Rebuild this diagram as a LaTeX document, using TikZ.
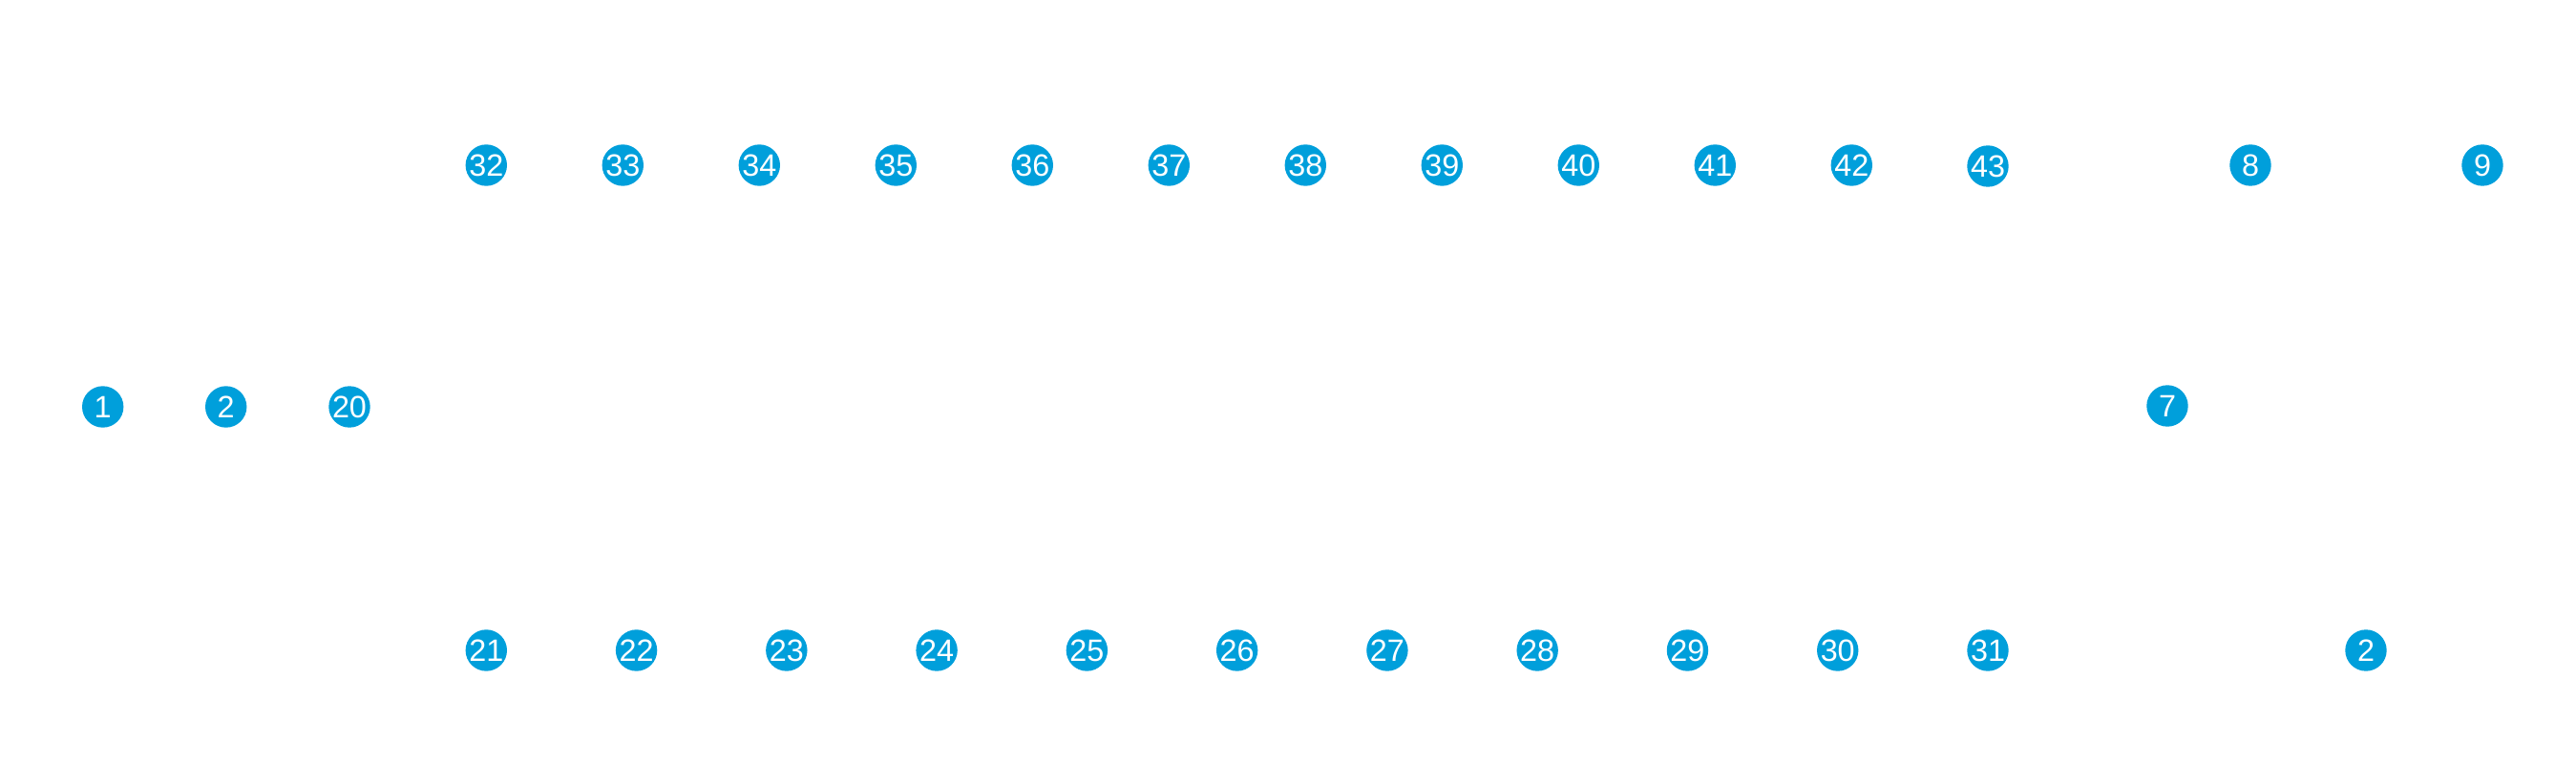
\documentclass[tikz,border=0pt]{standalone}
\usepackage{fontspec}
\setmainfont{Liberation Sans}
\usepackage{xcolor}
\usepackage{tikz}
\usetikzlibrary{positioning}

\definecolor{pinblue}{RGB}{0,159,219}

\begin{document}
\begin{tikzpicture}[
  num/.style={circle, fill=pinblue, text=white, inner sep=0pt,
              minimum size=0.434cm, font=\fontsize{9.2}{10}\selectfont},
]
  \useasboundingbox (0,0) rectangle (26.98,7.99);

  % left column
  \node[num] (n1)  at (1.077,3.73) {1};
  \node[num] (n2)  at (2.367,3.73) {2};
  \node[num] (n20) at (3.66,3.73)  {20};

  % top row
  \foreach \i in {32,...,42}
    \node[num] (n\i) at ({5.093+(\i-32)*1.43},6.26) {\i};
  \node[num] (n43) at (20.82,6.25) {43};
  \node[num] (n8)  at (23.57,6.26) {8};
  \node[num] (n9)  at (26.0,6.26)  {9};

  % right side
  \node[num] (n7)  at (22.70,3.74) {7};

  % bottom row
  \foreach \i in {21,...,31}
    \node[num] (n\i) at ({5.093+(\i-21)*1.5727},1.18) {\i};
  \node[num] (n2b) at (24.78,1.18) {2};
\end{tikzpicture}
\end{document}
